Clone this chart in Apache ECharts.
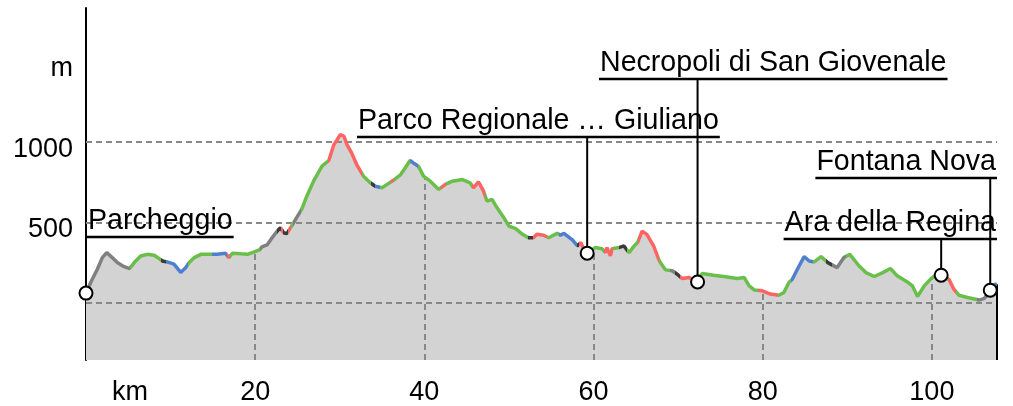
<!DOCTYPE html>
<html>
<head>
<meta charset="utf-8">
<script src="https://cdn.jsdelivr.net/npm/echarts@6/dist/echarts.min.js"></script>
<style>
  html, body { margin: 0; padding: 0; background: #fff; }
  #profile { width: 1013px; height: 406px; }
</style>
</head>
<body>
<div id="profile"></div>
<script>
// distance along the route (km) and elevation (m)
var distKm = [
  0, 0.55, 1.34, 1.93, 2.45, 3.1, 3.7, 4.5, 5.17, 5.7, 6.47, 7.25, 8.05, 8.64, 9.03, 9.6,
  10.4, 11.2, 11.8, 12.2, 12.8, 13.57, 14.56, 15.5, 16.5, 16.9, 17.3, 18.3, 19.1, 19.9,
  20.5, 20.8, 21.4, 22.0, 22.6, 23.0, 23.35, 23.75, 24.06, 24.3, 24.9, 25.5, 26.1, 26.9,
  27.9, 28.7, 29.3, 29.7, 30.06, 30.5, 30.85, 31.4, 32.0, 32.8, 33.6, 34.2, 35.0, 35.6,
  36.3, 37.2, 37.75, 38.3, 38.7, 39.3, 39.9, 40.7, 41.7, 42.5, 43.3, 44.5, 45.4, 45.8,
  46.4, 47.0, 47.4, 48.0, 48.6, 49.4, 50.0, 50.8, 51.6, 52.3, 52.9, 53.3, 54.1, 54.7,
  55.7, 56.1, 56.5, 57.5, 58.1, 58.5, 58.85, 59.25, 60.2, 61.0, 61.4, 61.6, 62.0, 62.2,
  63.0, 63.6, 64.2, 64.8, 65.2, 65.75, 66.3, 67.1, 67.7, 67.9, 68.5, 69.3, 69.9, 70.5,
  71.3, 72.1, 72.85, 74.2, 75.4, 77.0, 77.8, 78.4, 79.0, 79.95, 80.9, 81.9, 82.5, 83.1,
  83.5, 84.1, 84.9, 85.5, 86.1, 86.9, 87.7, 88.8, 89.6, 90.3, 91.4, 92.2, 93.2, 94.2,
  95.1, 95.9, 97.1, 97.7, 98.3, 99.1, 99.9, 100.6, 101.1, 101.6, 102.05, 102.6, 103.2,
  104.2, 105.6, 106.2, 106.9, 107.4, 107.7
];
var elevM = [
  62, 128, 210, 282, 313, 282, 251, 226, 214, 251, 292, 302, 296, 276, 261, 255,
  241, 190, 220, 251, 282, 302, 302, 302, 309, 282, 309, 305, 302, 317,
  329, 348, 360, 405, 446, 467, 436, 430, 457, 477, 529, 580, 662, 755,
  848, 883, 981, 1012, 1043, 1033, 981, 930, 858, 786, 745, 724, 714, 735,
  759, 796, 838, 883, 868, 848, 786, 755, 704, 735, 755, 765, 745, 714,
  751, 693, 632, 642, 590, 529, 477, 461, 426, 405, 405, 426, 420, 405,
  432, 420, 432, 391, 354, 375, 333, 309, 344, 337, 313, 344, 292, 337,
  344, 354, 313, 354, 375, 446, 426, 354, 272, 251, 206, 200, 179, 152,
  159, 138, 183, 173, 165, 152, 159, 107, 82, 76, 56, 49, 66, 128,
  148, 210, 288, 261, 255, 288, 251, 220, 282, 302, 230, 189, 165, 189,
  214, 169, 131, 107, 41, 107, 152, 180, 176, 165, 144, 86, 49,
  35, 19, 29, 75, 115, 117
];

// surface type of each stretch, starting at the given km
var segStartKm = [
  0, 5.17, 8.9, 9.4, 12.0, 14.9, 16.7, 17.0, 20.6, 22.6,
  23.0, 23.3, 23.9, 24.2, 24.5, 25.4, 28.6, 32.6, 33.7, 34.2,
  34.7, 36.1, 36.4, 38.3, 39.3, 42.0, 42.6, 45.6, 47.2, 52.3,
  52.9, 54.5, 55.9, 58.0, 58.3, 59.6, 61.2, 62.3, 63.0, 64.0,
  65.2, 67.8, 69.0, 69.6, 70.2, 72.5, 79.5, 81.8, 83.3, 85.9,
  87.5, 88.2, 89.8, 101.9, 102.8, 105.3, 107.4
];
var segKind = [
  'u', 'g', 'd', 'b', 'g', 'b', 'r', 'g', 'u', 'd',
  'r', 'd', 'r', 'g', 'u', 'g', 'r', 'g', 'd', 'b',
  'g', 'r', 'g', 'b', 'g', 'r', 'g', 'r', 'g', 'd',
  'r', 'g', 'b', 'd', 'r', 'g', 'r', 'g', 'd', 'g',
  'r', 'g', 'u', 'd', 'r', 'g', 'r', 'g', 'b', 'g',
  'd', 'u', 'g', 'r', 'g', 'u', 'b'
];

// waypoints
var wpName = ['Parcheggio', 'Parco Regionale \u2026 Giuliano', 'Necropoli di San Giovenale', 'Ara della Regina', 'Fontana Nova'];
var wpKm = [0, 59.25, 72.3, 101.1, 106.9];
var wpElev = [62, 309, 131, 173, 80];

// axis ticks
var xTicks = [5.2, 20, 40, 60, 80, 100];
var yTicks = [500, 1000, 1500];
var gridLevels = [0, 500, 1000];
var gridKm = [20, 40, 60, 80, 100];

// styling
var kindColor = { u: '#808080', g: '#6abf4a', d: '#3a3a3a', b: '#4f7fcf', r: '#ff6464' };
var labelPlace = [
  { align: 'left', x: 88, y: 237 },
  { align: 'left', x: 358, y: 137 },
  { align: 'left', x: 600, y: 79 },
  { align: 'right', x: 996, y: 239 },
  { align: 'right', x: 996, y: 178 }
];
var FONT = 'Liberation Sans, Arial, sans-serif';
var FS = 28.6;

var yMin = -352, yMax = 1827;
var xMax = distKm[distKm.length - 1];

var profile = distKm.map(function (k, i) { return [k, elevM[i]]; });

function elevAt(km) {
  for (var i = 1; i < distKm.length; i++) {
    if (distKm[i] >= km) {
      var t = (km - distKm[i - 1]) / (distKm[i] - distKm[i - 1]);
      return elevM[i - 1] + t * (elevM[i] - elevM[i - 1]);
    }
  }
  return elevM[elevM.length - 1];
}

var pieces = segStartKm.map(function (s, i) {
  var p = { gte: s, color: kindColor[segKind[i]] };
  if (i < segStartKm.length - 1) p.lt = segStartKm[i + 1];
  else p.lte = 1000;
  return p;
});

var dashStyle = { color: '#888', width: 2, type: [6, 4] };
var markLines = gridLevels.map(function (v) {
  return { yAxis: v, lineStyle: dashStyle };
});
gridKm.forEach(function (k) {
  markLines.push([{ coord: [k, yMin], lineStyle: dashStyle }, { coord: [k, elevAt(k)] }]);
});
markLines.push([
  { coord: [xMax, yMin], lineStyle: { color: '#000', width: 2, type: 'solid' } },
  { coord: [xMax, elevM[elevM.length - 1]] }
]);

var measureCtx = document.createElement('canvas').getContext('2d');
measureCtx.font = FS + 'px ' + FONT;

var chart = echarts.init(document.getElementById('profile'));
chart.setOption({
  animation: false,
  grid: { left: 86, right: 16, top: 8, bottom: 45 },
  xAxis: {
    type: 'value',
    min: 0,
    max: xMax,
    axisLine: { lineStyle: { color: '#000', width: 2 } },
    axisTick: { show: false },
    splitLine: { show: false },
    axisLabel: {
      customValues: xTicks,
      formatter: function (v) { return v === 5.2 ? 'km' : String(v); },
      color: '#000',
      fontSize: 27,
      fontFamily: FONT,
      margin: 19
    }
  },
  yAxis: {
    type: 'value',
    min: yMin,
    max: yMax,
    axisLine: { show: true, lineStyle: { color: '#000', width: 2 } },
    axisTick: { show: false },
    splitLine: { show: false },
    axisLabel: {
      customValues: yTicks,
      formatter: function (v) { return v === 1500 ? 'm' : String(v); },
      color: '#000',
      fontSize: 27,
      fontFamily: FONT,
      margin: 13,
      verticalAlign: 'top',
      lineHeight: 15
    }
  },
  visualMap: {
    show: false,
    type: 'piecewise',
    dimension: 0,
    seriesIndex: 1,
    pieces: pieces
  },
  series: [
    {
      type: 'line',
      data: profile,
      showSymbol: false,
      silent: true,
      z: 1,
      lineStyle: { width: 0 },
      areaStyle: { color: '#d3d3d3', opacity: 1, origin: 'start' },
      markLine: {
        silent: true,
        symbol: 'none',
        z: 2,
        label: { show: false },
        data: markLines
      }
    },
    {
      type: 'line',
      data: profile,
      showSymbol: false,
      silent: true,
      z: 3,
      lineStyle: { width: 3.5 }
    },
    {
      type: 'custom',
      z: 10,
      silent: true,
      clip: false,
      data: wpKm.map(function (k, i) { return [k, wpElev[i], i]; }),
      encode: { x: 0, y: 1 },
      renderItem: function (params, api) {
        var i = api.value(2);
        var p = api.coord([api.value(0), api.value(1)]);
        var lay = labelPlace[i];
        var w = measureCtx.measureText(wpName[i]).width;
        var left = lay.align === 'left' ? lay.x : lay.x - w;
        var x1 = Math.min(left - 1, p[0]);
        var x2 = Math.max(left + w + 1, p[0]);
        return {
          type: 'group',
          children: [
            { type: 'line', shape: { x1: p[0], y1: p[1], x2: p[0], y2: lay.y }, style: { stroke: '#000', lineWidth: 2 } },
            { type: 'line', shape: { x1: x1, y1: lay.y, x2: x2, y2: lay.y }, style: { stroke: '#000', lineWidth: 2.5 } },
            {
              type: 'text',
              style: {
                text: wpName[i], x: left, y: lay.y - 1,
                fontSize: FS, fontFamily: FONT, fill: '#000',
                align: 'left', verticalAlign: 'bottom'
              }
            },
            { type: 'circle', shape: { cx: p[0], cy: p[1], r: 6.5 }, style: { fill: '#fff', stroke: '#000', lineWidth: 2 } }
          ]
        };
      }
    }
  ]
});
</script>
</body>
</html>
